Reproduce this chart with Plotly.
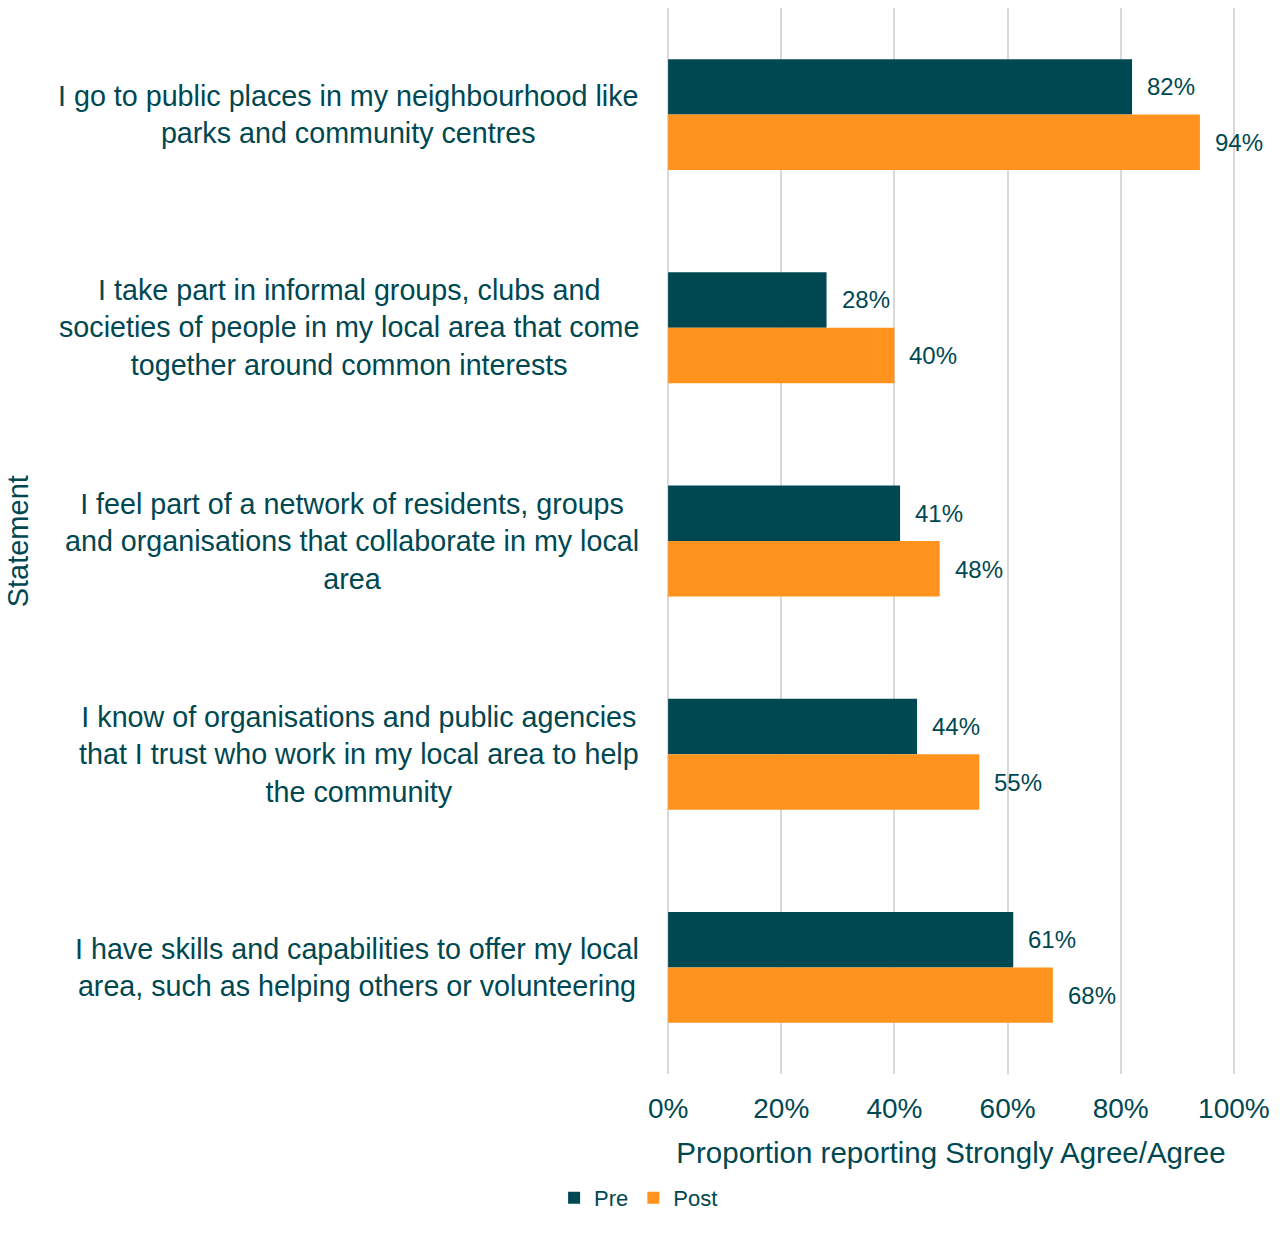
import plotly.graph_objects as go

# Survey statements (top to bottom) and the share agreeing before / after
statements = [
    "I go to public places in my neighbourhood like<br>parks and community centres",
    "I take part in informal groups, clubs and<br>societies of people in my local area that come<br>together around common interests",
    "I feel part of a network of residents, groups<br>and organisations that collaborate in my local<br>area",
    "I know of organisations and public agencies<br>that I trust who work in my local area to help<br>the community",
    "I have skills and capabilities to offer my local<br>area, such as helping others or volunteering",
]
pre = [0.82, 0.28, 0.41, 0.44, 0.61]
post = [0.94, 0.40, 0.48, 0.55, 0.68]
x_ticks = [0, 0.2, 0.4, 0.6, 0.8, 1.0]
x_tick_labels = ["0%", "20%", "40%", "60%", "80%", "100%"]

TEAL = "#004851"
ORANGE = "#FF931E"
GRID = "#d9d9d9"
FONT = "Liberation Sans, Arial, sans-serif"

cat_ids = list(range(len(statements)))

fig = go.Figure()
fig.add_trace(go.Bar(y=cat_ids, x=pre, name="Pre", orientation="h",
                     marker=dict(color=TEAL, line=dict(width=0))))
fig.add_trace(go.Bar(y=cat_ids, x=post, name="Post", orientation="h",
                     marker=dict(color=ORANGE, line=dict(width=0))))

annotations = []
# value labels just past each bar end
for i in cat_ids:
    for val, shift in ((pre[i], 28), (post[i], -28)):
        annotations.append(dict(
            x=val, y=i, xref="x", yref="y", text=f"{round(val * 100)}%",
            showarrow=False, xanchor="left", yanchor="middle",
            xshift=13, yshift=shift, font=dict(size=24, color=TEAL, family=FONT)))
# statement labels, centred lines right-aligned to the axis
for i, s in enumerate(statements):
    annotations.append(dict(
        x=0, y=i, xref="paper", yref="y", text=s, showarrow=False,
        xanchor="right", yanchor="middle", align="center", xshift=-26,
        font=dict(size=28.7, color=TEAL, family=FONT)))
# vertical axis title
annotations.append(dict(
    x=-1.142, y=0.5, xref="paper", yref="paper", text="Statement",
    showarrow=False, textangle=-90, xanchor="center", yanchor="middle",
    font=dict(size=29, color=TEAL, family=FONT)))

fig.update_layout(
    width=1285, height=1236,
    margin=dict(l=667, r=50, t=8, b=162, autoexpand=False),
    paper_bgcolor="white", plot_bgcolor="white",
    barmode="group", bargap=0.48, bargroupgap=0,
    font=dict(family=FONT, color=TEAL),
    xaxis=dict(range=[-0.002, 1.002], tickvals=x_ticks, ticktext=x_tick_labels,
               showgrid=True, gridcolor=GRID, gridwidth=2,
               zeroline=False, showline=False,
               ticks="outside", ticklen=9, tickcolor="rgba(0,0,0,0)",
               tickfont=dict(size=28, color=TEAL, family=FONT),
               title=dict(text="Proportion reporting Strongly Agree/Agree",
                          font=dict(size=29.5, color=TEAL, family=FONT), standoff=19)),
    yaxis=dict(range=[len(statements) - 0.5, -0.5], showticklabels=False,
               showgrid=False, zeroline=False, showline=False, ticks=""),
    legend=dict(orientation="h", x=-0.05, xanchor="center", y=-0.0965, yanchor="top",
                font=dict(size=22, color=TEAL, family=FONT),
                itemwidth=30, traceorder="normal"),
    annotations=annotations,
)

fig.write_html("out.html")
